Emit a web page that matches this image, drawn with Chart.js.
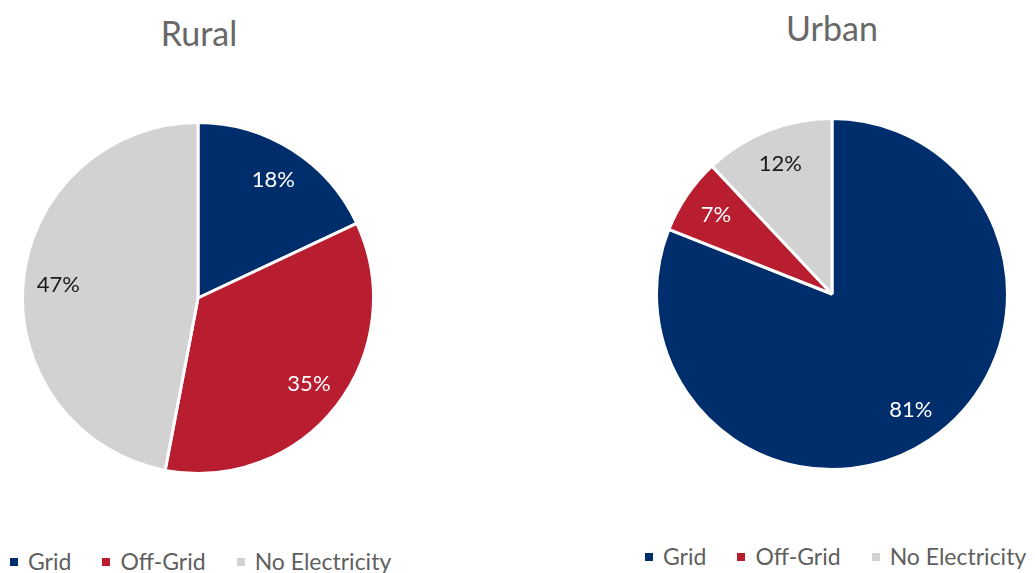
<!DOCTYPE html>
<html>
<head>
<meta charset="utf-8">
<script src="https://cdn.jsdelivr.net/npm/chart.js@4/dist/chart.umd.min.js"></script>
<style>
  body { margin: 0; background: #fff; font-family: Lato, "Open Sans", sans-serif; }
  #page { position: relative; width: 1035px; height: 573px; overflow: hidden; }
  .title { position: absolute; font-size: 34px; color: #686868; text-align: center; width: 300px; line-height: 1; }
  .legend { position: absolute; display: flex; align-items: center; font-size: 23px; color: #5f5f5f; white-space: nowrap; line-height: 1; }
  .legend .item { display: flex; align-items: center; margin-right: 31px; }
  .legend .box { width: 8px; height: 8px; margin-right: 10px; }
  canvas { position: absolute; }
</style>
</head>
<body>
<div id="page">
  <div class="title" style="left:49px; top:16px;">Rural</div>
  <div class="title" style="left:682px; top:11px;">Urban</div>
  <canvas id="rural" width="354" height="354" style="left:21px; top:121px;"></canvas>
  <canvas id="urban" width="354" height="354" style="left:655px; top:117px;"></canvas>
  <div class="legend" id="legendRural" style="left:10px; top:550px;"></div>
  <div class="legend" id="legendUrban" style="left:645px; top:545px;"></div>
</div>
<script>
const categories = ['Grid', 'Off-Grid', 'No Electricity'];
const ruralValues = [18, 35, 47];
const urbanValues = [81, 7, 12];
const sliceColors = ['#002e6d', '#b81d30', '#d2d2d2'];
const labelColors = ['#ffffff', '#ffffff', '#1a1a1a'];

// draws the % inside each slice
const sliceLabels = {
  id: 'sliceLabels',
  afterDatasetsDraw(chart) {
    const ctx = chart.ctx;
    const meta = chart.getDatasetMeta(0);
    const vals = chart.data.datasets[0].data;
    ctx.save();
    ctx.font = '22px Lato, "Open Sans", sans-serif';
    ctx.textAlign = 'center';
    ctx.textBaseline = 'middle';
    meta.data.forEach((arc, i) => {
      const p = arc.getProps(['x', 'y', 'startAngle', 'endAngle', 'outerRadius'], true);
      const mid = (p.startAngle + p.endAngle) / 2;
      const r = p.outerRadius * 0.8;
      ctx.fillStyle = labelColors[i];
      ctx.fillText(vals[i] + '%', p.x + Math.cos(mid) * r, p.y + Math.sin(mid) * r);
    });
    ctx.restore();
  }
};

function makePie(id, values) {
  new Chart(document.getElementById(id), {
    type: 'pie',
    data: {
      labels: categories,
      datasets: [{
        data: values,
        backgroundColor: sliceColors,
        borderColor: '#ffffff',
        borderWidth: 3
      }]
    },
    options: {
      responsive: false,
      animation: false,
      layout: { padding: 0 },
      plugins: {
        legend: { display: false },
        tooltip: { enabled: false }
      }
    },
    plugins: [sliceLabels]
  });
}

function makeLegend(id) {
  const el = document.getElementById(id);
  categories.forEach((c, i) => {
    const item = document.createElement('div');
    item.className = 'item';
    item.innerHTML = '<span class="box" style="background:' + sliceColors[i] + '"></span><span>' + c + '</span>';
    el.appendChild(item);
  });
}

makePie('rural', ruralValues);
makePie('urban', urbanValues);
makeLegend('legendRural');
makeLegend('legendUrban');
</script>
</body>
</html>
